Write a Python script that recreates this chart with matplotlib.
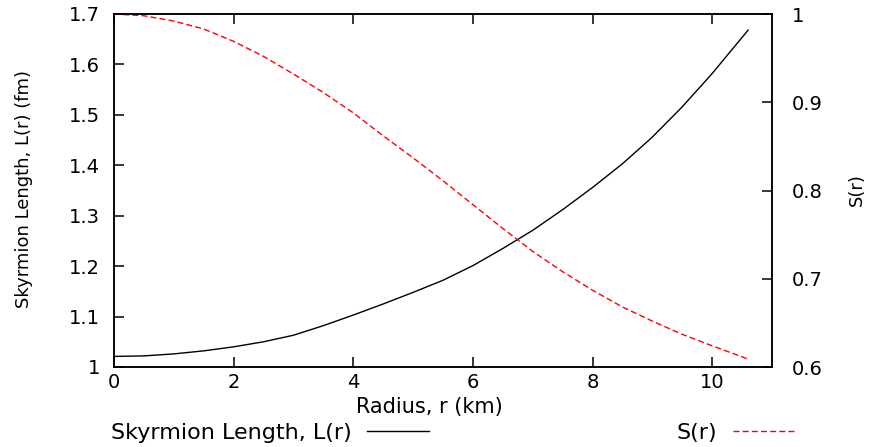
import matplotlib
matplotlib.use("Agg")
import matplotlib.pyplot as plt

# values
radius = [0, 0.5, 1, 1.5, 2, 2.5, 3, 3.5, 4, 4.5, 5, 5.5, 6, 6.5, 7, 7.5,
          8, 8.5, 9, 9.5, 10, 10.6]
length = [1.021, 1.022, 1.026, 1.032, 1.040, 1.050, 1.063, 1.082, 1.103, 1.125,
          1.148, 1.172, 1.201, 1.235, 1.271, 1.312, 1.356, 1.403, 1.456, 1.516,
          1.582, 1.668]
s_vals = [1.000, 0.998, 0.992, 0.983, 0.969, 0.952, 0.932, 0.911, 0.888, 0.862,
          0.837, 0.811, 0.784, 0.757, 0.731, 0.708, 0.687, 0.668, 0.652, 0.637,
          0.624, 0.609]

x_ticks = [0, 2, 4, 6, 8, 10]
left_ticks = [1.0, 1.1, 1.2, 1.3, 1.4, 1.5, 1.6, 1.7]
left_labels = ["1", "1.1", "1.2", "1.3", "1.4", "1.5", "1.6", "1.7"]
right_ticks = [0.6, 0.7, 0.8, 0.9, 1.0]
right_labels = ["0.6", "0.7", "0.8", "0.9", "1"]

plt.rcParams["font.family"] = ["DejaVu Sans"]

fig = plt.figure(figsize=(8.76, 4.47), dpi=100)
ax = fig.add_axes([114 / 876, 1 - 367 / 447, 658 / 876, 353 / 447])
ax2 = ax.twinx()

l1, = ax.plot(radius, length, color="black", lw=1.0,
              label="Skyrmion Length, L(r)")
l2, = ax2.plot(radius, s_vals, color="#ff0000", lw=1.0,
               dashes=(4.3, 2.3), label="S(r)")

ax.set_xlim(0, 11)
ax.set_ylim(1.0, 1.7)
ax2.set_ylim(0.6, 1.0)

ax.set_xticks(x_ticks)
ax.set_yticks(left_ticks)
ax.set_yticklabels(left_labels)
ax2.set_yticks(right_ticks)
ax2.set_yticklabels(right_labels)

for sp in list(ax.spines.values()) + list(ax2.spines.values()):
    sp.set_linewidth(1.1)

ax.tick_params(axis="x", direction="in", length=7, width=1.1, top=True,
               labelsize=14, pad=4)
ax.tick_params(axis="y", direction="in", length=7, width=1.1, right=False,
               labelsize=14, pad=10)
ax2.tick_params(axis="y", direction="in", length=7, width=1.1, left=False,
                labelsize=14, pad=14)

ax.set_xlabel("Radius, r (km)", fontsize=15)
ax.xaxis.set_label_coords(0.48, -0.085)
ax.set_ylabel("Skyrmion Length, L(r) (fm)", fontsize=13)
ax.yaxis.set_label_coords(-0.123, 0.504)
ax2.set_ylabel("S(r)", fontsize=13, rotation=90)
ax2.yaxis.set_label_coords(1.115, 0.504)

# gnuplot style key below the plot: text first, sample after
fig.legend(handles=[l1], loc="center right",
           bbox_to_anchor=(429 / 876, 1 - 433 / 447), markerfirst=False,
           frameon=False, borderpad=0, borderaxespad=0, fontsize=16,
           handlelength=2.8, handletextpad=0.68)
fig.legend(handles=[l2], loc="center right",
           bbox_to_anchor=(797 / 876, 1 - 433 / 447), markerfirst=False,
           frameon=False, borderpad=0, borderaxespad=0, fontsize=16,
           handlelength=2.9, handletextpad=0.68)

fig.savefig("out.png", dpi=100)
